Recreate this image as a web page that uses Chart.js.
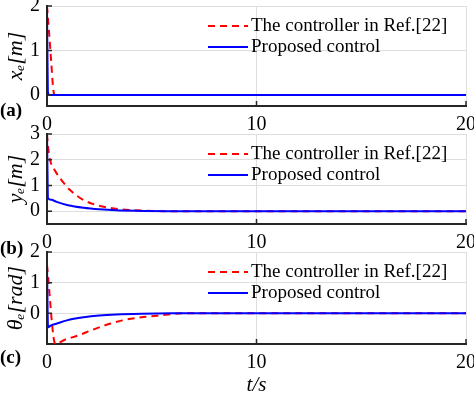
<!DOCTYPE html>
<html>
<head>
<meta charset="utf-8">
<script src="https://cdn.jsdelivr.net/npm/chart.js@4.4.0/dist/chart.umd.min.js"></script>
<style>
  html, body { margin: 0; padding: 0; background: #fff; }
  #wrap { position: relative; width: 474px; height: 397px; overflow: hidden; }
  canvas { position: absolute; left: 0; }
</style>
</head>
<body>
<div id="wrap">
  <canvas id="pa" width="474" height="132" style="top:0px"></canvas>
  <canvas id="pb" width="474" height="145" style="top:118px"></canvas>
  <canvas id="pc" width="474" height="161" style="top:236px"></canvas>
</div>
<script>
// legend names
var refName = "The controller in Ref.[22]";
var propName = "Proposed control";

// (a) x_e
var tA1 = [0, 0.1, 0.2, 0.3, 0.36, 20];
var xeRef = [2, 1.4, 0.75, 0.12, 0, 0];
var tA2 = [0, 0.04, 0.1, 20];
var xeProp = [2, 0.08, 0, 0];

// (b) y_e
var tB1 = [0, 0.05, 0.16, 0.4, 0.63, 1.1, 1.75, 2.4, 3.2, 4.1, 5.5, 20];
var yeRef = [3, 2.5, 1.95, 1.55, 1.27, 0.82, 0.43, 0.23, 0.1, 0.04, 0, 0];
var tB2 = [0, 0.05, 0.2, 0.46, 1, 1.75, 2.5, 3.3, 4.5, 6, 20];
var yeProp = [3, 0.5, 0.44, 0.36, 0.23, 0.13, 0.07, 0.03, 0.01, 0, 0];

// (c) theta_e
var tC1 = [0, 0.4, 0.85, 1.5, 2.2, 3, 3.6, 4.6, 5.5, 6.5, 20];
var thRef = [1.57, -1.0, -0.86, -0.72, -0.53, -0.34, -0.23, -0.12, -0.06, 0, 0];
var tC2 = [0, 0.05, 0.2, 0.44, 0.95, 1.75, 2.5, 3.3, 4.5, 6, 20];
var thProp = [1.57, -0.45, -0.39, -0.34, -0.23, -0.13, -0.07, -0.035, -0.01, 0, 0];

// tick labels
var xTicks = [0, 10, 20];
var yTicksA = [0, 1, 2];
var yTicksB = [0, 1, 2, 3];
var yTicksC = [0, 1, 2];

var serif = "'Liberation Serif', 'Times New Roman', serif";

function pts(ts, vs) {
    return ts.map(function (t, i) { return { x: t, y: vs[i] }; });
}

function tickList(vals) {
    return vals.map(function (v) { return { value: v }; });
}

// legend, panel letter and inward tick marks
var extras = {
    id: 'extras',
    afterDraw: function (chart, args, opts) {
        var ctx = chart.ctx;
        var a = chart.chartArea;
        var xs = chart.scales.x, ys = chart.scales.y;
        ctx.save();

        // tick marks pointing inward
        ctx.strokeStyle = '#262626';
        ctx.lineWidth = 1.5;
        ctx.beginPath();
        xs.ticks.forEach(function (t) {
            var px = xs.getPixelForValue(t.value);
            ctx.moveTo(px, a.bottom);
            ctx.lineTo(px, a.bottom - 5);
        });
        ys.ticks.forEach(function (t) {
            var py = ys.getPixelForValue(t.value);
            ctx.moveTo(a.left, py);
            ctx.lineTo(a.left + 5, py);
        });
        ctx.stroke();

        // legend
        var rows = [
            { name: refName, color: 'red', dash: [7, 5], y: a.top + 20 },
            { name: propName, color: 'blue', dash: [], y: a.top + 41 }
        ];
        ctx.font = '19px ' + serif;
        ctx.textBaseline = 'middle';
        ctx.textAlign = 'left';
        rows.forEach(function (r) {
            ctx.strokeStyle = r.color;
            ctx.lineWidth = 2;
            ctx.setLineDash(r.dash);
            ctx.beginPath();
            ctx.moveTo(208, r.y);
            ctx.lineTo(248, r.y);
            ctx.stroke();
            ctx.setLineDash([]);
            ctx.fillStyle = '#000';
            ctx.fillText(r.name, 251, r.y);
        });

        // panel letter
        ctx.font = 'bold 19px ' + serif;
        ctx.fillText(opts.label, 0, opts.labelY);
        ctx.restore();
    }
};

function makePanel(id, refT, refV, propT, propV, yMin, yMax, yTicks, yTitle, label, labelY, padTop, xHeight, xTitle) {
    return new Chart(document.getElementById(id), {
        type: 'line',
        data: {
            datasets: [
                {
                    label: refName,
                    data: pts(refT, refV),
                    borderColor: 'red',
                    borderWidth: 2,
                    borderDash: [7, 5],
                    pointRadius: 0,
                    fill: false,
                    cubicInterpolationMode: 'monotone',
                    order: 2
                },
                {
                    label: propName,
                    data: pts(propT, propV),
                    borderColor: 'blue',
                    borderWidth: 2,
                    pointRadius: 0,
                    fill: false,
                    cubicInterpolationMode: 'monotone',
                    order: 1
                }
            ]
        },
        options: {
            responsive: false,
            animation: false,
            layout: { padding: { top: padTop, right: 8, left: 0, bottom: 0 } },
            plugins: {
                legend: { display: false },
                tooltip: { enabled: false },
                extras: { label: label, labelY: labelY }
            },
            scales: {
                x: {
                    type: 'linear',
                    min: 0,
                    max: 20,
                    afterBuildTicks: function (s) { s.ticks = tickList(xTicks); },
                    afterFit: function (s) {
                        s.height = xHeight;
                        s.paddingLeft = 0;
                        s.paddingRight = 0;
                    },
                    grid: { color: '#dedede', lineWidth: 1, drawTicks: false },
                    border: { color: '#262626', width: 2 },
                    ticks: {
                        padding: 7,
                        maxRotation: 0,
                        color: '#000',
                        font: { family: serif, size: 20 }
                    },
                    title: {
                        display: !!xTitle,
                        text: xTitle || '',
                        color: '#000',
                        padding: { top: 0, bottom: 1 },
                        font: { family: serif, size: 21, style: 'italic', lineHeight: 1 }
                    }
                },
                y: {
                    min: yMin,
                    max: yMax,
                    afterBuildTicks: function (s) { s.ticks = tickList(yTicks); },
                    afterFit: function (s) {
                        s.width = 47;
                        s.paddingTop = 0;
                        s.paddingBottom = 0;
                    },
                    grid: { color: '#dedede', lineWidth: 1, drawTicks: false },
                    border: { color: '#262626', width: 2 },
                    ticks: {
                        padding: 7,
                        color: '#000',
                        font: { family: serif, size: 20 }
                    },
                    title: {
                        display: true,
                        text: yTitle,
                        color: '#000',
                        padding: { top: 5, bottom: 0 },
                        font: { family: serif, size: 22, style: 'italic', lineHeight: 1 }
                    }
                }
            }
        },
        plugins: [extras]
    });
}

makePanel('pa', tA1, xeRef, tA2, xeProp, -0.25, 2, yTicksA, 'x\u2091[m]', '(a)', 111, 6, 26, null);
makePanel('pb', tB1, yeRef, tB2, yeProp, -0.5, 3, yTicksB, 'y\u2091[m]', '(b)', 131, 16, 39, null);
makePanel('pc', tC1, thRef, tC2, thProp, -1, 2, yTicksC, '\u03b8\u2091[rad]', '(c)', 122, 16, 53, 't/s');
</script>
</body>
</html>
